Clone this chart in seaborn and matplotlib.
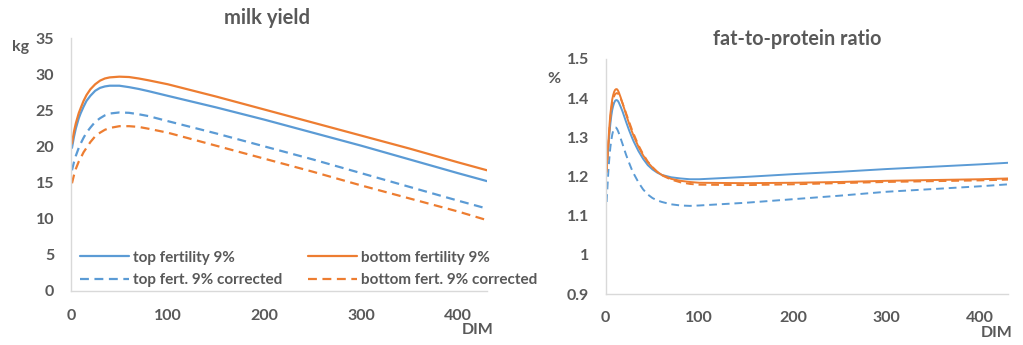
import numpy as np
import pandas as pd
import matplotlib
matplotlib.use("Agg")
import matplotlib.pyplot as plt
import seaborn as sns
from matplotlib.ticker import FuncFormatter

# milk yield (kg) by days in milk
dim_milk = [1, 3, 5, 8, 10, 13, 16, 20, 25, 30, 35, 40, 50, 60, 70, 80, 100, 150, 200, 250, 300, 350, 400, 430]
milk_top = [19.8, 21.3, 22.5, 23.9, 24.6, 25.5, 26.3, 27.0, 27.7, 28.1, 28.3, 28.4, 28.4, 28.2, 27.95, 27.65, 27.0,
            25.4, 23.7, 21.9, 20.1, 18.2, 16.3, 15.2]
milk_bottom = [20.4, 22.0, 23.2, 24.6, 25.3, 26.3, 27.1, 27.9, 28.6, 29.1, 29.4, 29.55, 29.65, 29.6, 29.4, 29.15, 28.6,
               26.9, 25.1, 23.3, 21.5, 19.7, 17.8, 16.7]
milk_top_corr = [16.7, 17.8, 18.7, 19.8, 20.4, 21.2, 21.9, 22.6, 23.4, 23.9, 24.3, 24.55, 24.7, 24.65, 24.45, 24.2, 23.5,
                 21.8, 20.0, 18.2, 16.3, 14.4, 12.5, 11.4]
milk_bottom_corr = [14.9, 16.0, 16.9, 17.9, 18.4, 19.2, 19.8, 20.6, 21.4, 21.9, 22.3, 22.55, 22.8, 22.8, 22.7, 22.45, 21.9,
                    20.1, 18.3, 16.5, 14.6, 12.8, 11.0, 9.8]

# fat-to-protein ratio by days in milk
dim_fpr = [1, 2, 3, 4, 5, 6, 7, 8, 9, 10, 11, 12, 13, 14, 16, 18, 20, 22, 25, 28, 30, 35, 40, 45, 50, 55, 60,
           70, 80, 90, 100, 150, 200, 250, 300, 350, 400, 430]
fpr_top = [1.215, 1.25, 1.28, 1.31, 1.335, 1.355, 1.37, 1.38, 1.388, 1.393, 1.395, 1.395, 1.393, 1.389, 1.378, 1.366,
           1.352, 1.338, 1.318, 1.300, 1.289, 1.265, 1.245, 1.229, 1.218, 1.21, 1.204, 1.198, 1.195, 1.193, 1.193,
           1.199, 1.206, 1.212, 1.219, 1.225, 1.231, 1.235]
fpr_bottom = [1.22, 1.26, 1.295, 1.33, 1.36, 1.38, 1.397, 1.408, 1.416, 1.421, 1.423, 1.423, 1.42, 1.415, 1.402, 1.387,
              1.372, 1.357, 1.335, 1.315, 1.303, 1.276, 1.254, 1.236, 1.223, 1.212, 1.204, 1.194, 1.189, 1.186, 1.184,
              1.183, 1.184, 1.186, 1.189, 1.191, 1.193, 1.195]
fpr_top_corr = [1.135, 1.18, 1.22, 1.25, 1.275, 1.293, 1.307, 1.317, 1.322, 1.325, 1.325, 1.322, 1.317, 1.311, 1.297,
                1.283, 1.268, 1.254, 1.235, 1.217, 1.207, 1.185, 1.167, 1.154, 1.145, 1.139, 1.135, 1.129, 1.126,
                1.125, 1.126, 1.133, 1.142, 1.151, 1.161, 1.168, 1.175, 1.180]
fpr_bottom_corr = [1.21, 1.25, 1.285, 1.32, 1.35, 1.37, 1.386, 1.397, 1.405, 1.41, 1.412, 1.413, 1.412, 1.409, 1.399,
                   1.387, 1.374, 1.36, 1.34, 1.32, 1.308, 1.28, 1.257, 1.238, 1.224, 1.212, 1.203, 1.192, 1.185,
                   1.181, 1.179, 1.178, 1.180, 1.183, 1.186, 1.188, 1.190, 1.192]

labels = ["top fertility 9%", "top fert. 9% corrected", "bottom fertility 9%", "bottom fert. 9% corrected"]

BLUE = "#5B9BD5"
ORANGE = "#ED7D31"
GREY = "#595959"
DASH = (0, (4, 2.5))

sns.set_style("white")
plt.rcParams['font.family'] = ['Lato', 'DejaVu Sans']
plt.rcParams['font.weight'] = 'bold'

fig = plt.figure(figsize=(10.23, 3.45), dpi=100)
ax1 = fig.add_axes([71/1023, 1-291/345, (487-71)/1023, (291-38)/345])
ax2 = fig.add_axes([605.7/1023, 1-294/345, (1008-605.7)/1023, (294-59)/345])

styles = [(BLUE, '-'), (BLUE, DASH), (ORANGE, '-'), (ORANGE, DASH)]

milk = [milk_top, milk_top_corr, milk_bottom, milk_bottom_corr]
for vals, (col, ls), lab in zip(milk, styles, labels):
    sns.lineplot(x=dim_milk, y=vals, ax=ax1, color=col, linestyle=ls, linewidth=1.6, label=lab)

fpr = [fpr_top, fpr_top_corr, fpr_bottom, fpr_bottom_corr]
for vals, (col, ls) in zip(fpr, styles):
    sns.lineplot(x=dim_fpr, y=vals, ax=ax2, color=col, linestyle=ls, linewidth=1.4)

for ax in (ax1, ax2):
    ax.set_xlim(0, 430)
    ax.set_xticks([0, 100, 200, 300, 400])
    sns.despine(ax=ax)
    for s in ('left', 'bottom'):
        ax.spines[s].set_color('#d9d9d9')
        ax.spines[s].set_linewidth(1)
    ax.tick_params(length=0, labelsize=11.5, labelcolor=GREY)
    ax.tick_params(axis='y', pad=12)
    ax.grid(False)

ax1.tick_params(axis='x', pad=13)
ax2.tick_params(axis='x', pad=12)
ax1.set_ylim(0, 35)
ax1.set_yticks(range(0, 36, 5))
ax2.set_ylim(0.9, 1.5)
ax2.set_yticks(np.round(np.arange(0.9, 1.51, 0.1), 1))
ax2.yaxis.set_major_formatter(FuncFormatter(lambda v, p: f"{v:g}"))

fig.text(267/1023, 1-18/345, "milk yield", ha='center', va='center', fontsize=14.5, color=GREY, weight='bold')
fig.text(797/1023, 1-39/345, "fat-to-protein ratio", ha='center', va='center', fontsize=14.2, color=GREY, weight='bold')
fig.text(21/1023, 1-47/345, "kg", ha='center', va='center', fontsize=11.5, color=GREY, weight='bold')
fig.text(554/1023, 1-79/345, "%", ha='center', va='center', fontsize=11.5, color=GREY, weight='bold')
fig.text(478/1023, 1-330/345, "DIM", ha='center', va='center', fontsize=11.5, color=GREY, weight='bold')
fig.text(997/1023, 1-333/345, "DIM", ha='center', va='center', fontsize=11.5, color=GREY, weight='bold')

leg = ax1.legend(loc='lower left', bbox_to_anchor=(80/1023, 1-287/345), bbox_transform=fig.transFigure,
                 ncol=2, frameon=False, fontsize=11, handlelength=3.2, handletextpad=0.25,
                 columnspacing=1.7, labelspacing=0.55, borderaxespad=0, borderpad=0)
for t in leg.get_texts():
    t.set_color(GREY)

fig.savefig("out.png", dpi=100)
